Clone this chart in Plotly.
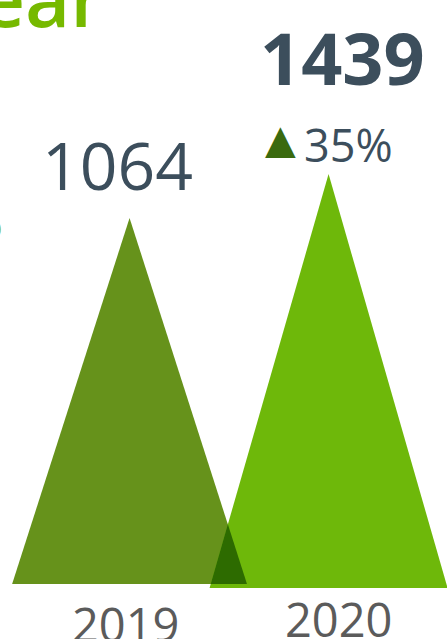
import plotly.graph_objects as go

# ---- data ----
years = ["2019", "2020"]
values = [1064, 1439]
value_labels = ["1064", "1439"]
change_label = "35%"
title_fragment = "Year"

# ---- layout constants ----
W, H = 447, 639
X_RANGE = [-0.651, 1.595]
Y1_RANGE = [-159.9, 1697.7]   # axis for 2019 triangle
Y2_RANGE = [-177.3, 2043.8]   # axis for 2020 triangle
HALF_W = [0.590, 0.598]
COLORS = ["#66921b", "#6eb80a"]
OVERLAP = "#2d6b00"
SLATE = "#3c4e5c"
GRAY = "#5b5b5b"
GREEN = "#76b900"
FONT = "Open Sans"


def px_x(x):
    return (x - X_RANGE[0]) / (X_RANGE[1] - X_RANGE[0]) * W


def px_y(v, r):
    return H - (v - r[0]) / (r[1] - r[0]) * H


def from_px_x(p):
    return X_RANGE[0] + p / W * (X_RANGE[1] - X_RANGE[0])


def from_px_y(p, r):
    return r[0] + (H - p) / H * (r[1] - r[0])


fig = go.Figure()
axes = ["y", "y2"]
for i, (yr, v) in enumerate(zip(years, values)):
    fig.add_trace(go.Scatter(
        x=[i - HALF_W[i], i, i + HALF_W[i], i - HALF_W[i]],
        y=[0, v, 0, 0],
        fill="toself", fillcolor=COLORS[i], mode="lines",
        line=dict(width=0, color=COLORS[i]), yaxis=axes[i],
        hoverinfo="skip", showlegend=False,
    ))

# overlap region (intersection of the two triangles), computed in pixel space
a0 = (px_x(0 + HALF_W[0]), px_y(0, Y1_RANGE))
a1 = (px_x(0), px_y(values[0], Y1_RANGE))
b0 = (px_x(1 - HALF_W[1]), px_y(0, Y2_RANGE))
b1 = (px_x(1), px_y(values[1], Y2_RANGE))


def intersect(p1, p2, p3, p4):
    x1, y1 = p1; x2, y2 = p2; x3, y3 = p3; x4, y4 = p4
    d = (x1 - x2) * (y3 - y4) - (y1 - y2) * (x3 - x4)
    t = ((x1 - x3) * (y3 - y4) - (y1 - y3) * (x3 - x4)) / d
    return (x1 + t * (x2 - x1), y1 + t * (y2 - y1))


ip = intersect(a0, a1, b0, b1)
base_y = a0[1]
t = (base_y - b0[1]) / (b1[1] - b0[1])
bl = (b0[0] + t * (b1[0] - b0[0]), base_y)
poly = [ip, bl, a0, ip]
# drawn on y2 so it sits above the 2020 triangle layer
fig.add_trace(go.Scatter(
    x=[from_px_x(p[0]) for p in poly],
    y=[from_px_y(p[1], Y2_RANGE) for p in poly],
    fill="toself", fillcolor=OVERLAP, mode="lines",
    line=dict(width=0, color=OVERLAP), yaxis="y2",
    hoverinfo="skip", showlegend=False,
))


def ann(text, px, py, size, color, weight="normal", xanchor="center", family=FONT):
    fig.add_annotation(
        x=px / W, y=1 - py / H, xref="paper", yref="paper",
        text=text, showarrow=False, xanchor=xanchor, yanchor="middle",
        font=dict(family=family, size=size, color=color, weight=weight),
    )


# title fragment cut at the top-left
ann(title_fragment, 106, -3, 78, GREEN, weight=600, xanchor="right")
ann("o", 4, 226, 34, GREEN, xanchor="right")

# value labels
ann(value_labels[0], 117, 164, 66, SLATE)
ann(value_labels[1], 342, 57, 72, SLATE, weight="bold")
ann("▲", 280, 139, 40, "#3a6a0e", family="DejaVu Sans")
ann(change_label, 348, 145, 45, SLATE)

# year labels
ann(years[0], 126, 624, 47, GRAY)
ann(years[1], 339, 619, 47, GRAY)

fig.update_layout(
    width=W, height=H, margin=dict(l=0, r=0, t=0, b=0),
    paper_bgcolor="white", plot_bgcolor="white",
    xaxis=dict(range=X_RANGE, visible=False, fixedrange=True),
    yaxis=dict(range=Y1_RANGE, visible=False, fixedrange=True),
    yaxis2=dict(range=Y2_RANGE, visible=False, overlaying="y", fixedrange=True),
)
fig.write_html(
    "out.html",
    config={"displayModeBar": False},
    post_script="document.body.style.margin='0';document.body.style.overflow='hidden';",
)
